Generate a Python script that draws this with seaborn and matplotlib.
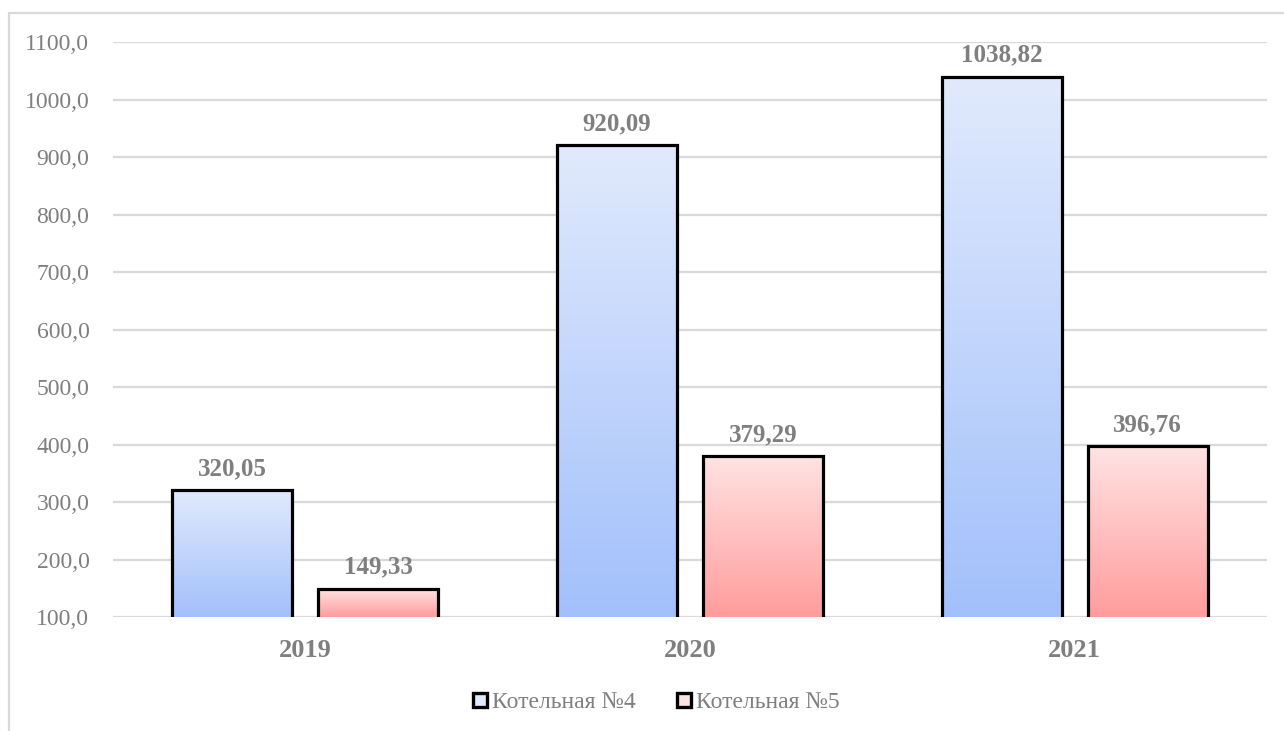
import numpy as np
import pandas as pd
import matplotlib
matplotlib.use("Agg")
import matplotlib.pyplot as plt
import seaborn as sns
from matplotlib.colors import LinearSegmentedColormap
from matplotlib.lines import Line2D
from matplotlib.font_manager import FontProperties

# Data
years = ["2019", "2020", "2021"]
series_names = ["Котельная №4", "Котельная №5"]
boiler4 = [320.05, 920.09, 1038.82]
boiler5 = [149.33, 379.29, 396.76]
y_ticks = [100, 200, 300, 400, 500, 600, 700, 800, 900, 1000, 1100]

df = pd.DataFrame({
    "year": years * 2,
    "series": [series_names[0]] * 3 + [series_names[1]] * 3,
    "value": boiler4 + boiler5,
})

# Gradient colours (top, bottom) for each series
grad = {
    series_names[0]: ("#e1eafd", "#a2c0fb"),
    series_names[1]: ("#ffe3e3", "#ff9c9c"),
}

sns.set_theme(style="white")
plt.rcParams["font.family"] = ["Liberation Serif", "DejaVu Serif"]

fig = plt.figure(figsize=(12.84, 7.31), dpi=100)
ax = fig.add_axes([113 / 1284, 1 - 617 / 731, (1267 - 113) / 1284, (617 - 42) / 731])

sns.barplot(data=df, x="year", y="value", hue="series", hue_order=series_names,
            order=years, palette=[grad[s][1] for s in series_names],
            width=0.76, gap=0.18, edgecolor="black", linewidth=2.3,
            legend=False, ax=ax, zorder=3)

ax.set_ylim(100, 1100)
ax.set_xlim(-0.5, 2.5)
ax.set_yticks(y_ticks)
ax.set_yticklabels([f"{v:.1f}".replace(".", ",") for v in y_ticks])
ax.set_xlabel("")
ax.set_ylabel("")
for s in ax.spines.values():
    s.set_visible(False)
ax.grid(axis="y", color="#d9d9d9", linewidth=1.6, zorder=0)
ax.set_axisbelow(True)
ax.tick_params(axis="y", length=0, pad=17, labelsize=17, labelcolor="#7f7f7f")
ax.tick_params(axis="x", length=0, pad=16, labelsize=19, labelcolor="#7f7f7f")
for t in ax.get_xticklabels():
    t.set_fontweight("bold")

# Gradient fill inside each bar
ymin, ymax = ax.get_ylim()
for container, name in zip(ax.containers, series_names):
    top_c, bot_c = grad[name]
    cmap = LinearSegmentedColormap.from_list(name, [bot_c, top_c])
    for patch in container.patches:
        x0, y0 = patch.get_x(), patch.get_y()
        w, h = patch.get_width(), patch.get_height()
        lo = max(y0, ymin)
        hi = y0 + h
        img = np.linspace(0, 1, 256).reshape(-1, 1)
        ax.imshow(img, cmap=cmap, origin="lower", aspect="auto",
                  extent=[x0, x0 + w, lo, hi], zorder=2.5, interpolation="bicubic")
        patch.set_facecolor("none")
    labels = [f"{v:.2f}".replace(".", ",") for v in container.datavalues]
    ax.bar_label(container, labels=labels, padding=7.5, fontsize=18,
                 fontweight="bold", color="#7f7f7f")

ax.set_xlim(-0.5, 2.5)
ax.set_ylim(100, 1100)

# Legend
handles = [Line2D([0], [0], marker="s", linestyle="none", markersize=10,
                  markerfacecolor=grad[s][0], markeredgecolor="black",
                  markeredgewidth=2.4, label=s) for s in series_names]
fig.legend(handles=handles, loc="center", bbox_to_anchor=(656 / 1284, 1 - 702 / 731),
           ncol=2, frameon=False, prop=FontProperties(family="Liberation Serif", size=17),
           handlelength=0.7, handletextpad=0.15, columnspacing=1.7,
           labelcolor="#7f7f7f")

# Outer chart frame
fig.add_artist(Line2D([9 / 1284, 1.0], [1 - 13 / 731, 1 - 13 / 731],
                      transform=fig.transFigure, color="#d9d9d9", linewidth=1.6))
fig.add_artist(Line2D([9 / 1284, 9 / 1284], [1 - 13 / 731, 0.0],
                      transform=fig.transFigure, color="#d9d9d9", linewidth=1.6))

fig.savefig("out.png", dpi=100)
